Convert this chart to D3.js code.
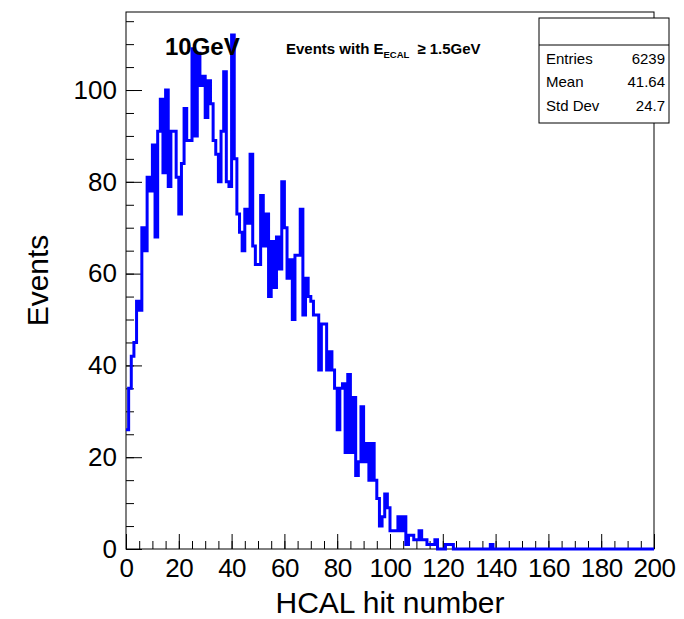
<!DOCTYPE html>
<html>
<head>
<meta charset="utf-8">
<script src="https://cdn.jsdelivr.net/npm/d3@7"></script>
<style>
  body { margin: 0; background: #fff; }
  svg { display: block; font-family: "Liberation Sans", Arial, sans-serif; }
</style>
</head>
<body>
<svg id="hcal-hist" width="684" height="619"></svg>
<script>
//HCAL hit number histogram, 10GeV run, 1 unit wide bins from 0 to 200
const binCounts = [
  26, 35, 42, 45, 54, 52, 70, 65, 81, 78,
  88, 68, 91, 98, 82, 100, 79, 91, 91, 81,
  73, 84, 96, 89, 89, 109, 90, 108, 101, 103,
  94, 102, 97, 89, 86, 80, 91, 104, 80, 79,
  112, 85, 73, 69, 65, 74, 71, 86, 66, 62,
  62, 77, 66, 73, 55, 67, 57, 68, 61, 80,
  70, 59, 63, 50, 64, 64, 74, 51, 59, 55,
  54, 51, 51, 39, 49, 49, 39, 43, 39, 35,
  26, 35, 36, 21, 38, 21, 33, 16, 19, 31,
  19, 23, 15, 23, 15, 11, 5, 7, 12, 9,
  4, 4, 4, 7, 4, 7, 1, 3, 3, 2,
  2, 4, 2, 2, 1, 1, 1, 2, 0, 0,
  0, 1, 1, 1, 0, 0, 0, 0, 0, 0,
  0, 0, 0, 0, 0, 0, 0, 0, 1, 0,
  0, 0, 0, 0, 0, 0, 0, 0, 0, 0,
  0, 0, 0, 0, 0, 0, 0, 0, 0, 0,
  0, 0, 0, 0, 0, 0, 0, 0, 0, 0,
  0, 0, 0, 0, 0, 0, 0, 0, 0, 0,
  0, 0, 0, 0, 0, 0, 0, 0, 0, 0,
  0, 0, 0, 0, 0, 0, 0, 0, 0, 0
];
const binStart = 0;
const binWidth = 1;

//Axis ticks
const xMajorTicks = [0, 20, 40, 60, 80, 100, 120, 140, 160, 180, 200];
const xMinorTicks = d3.range(0, 201, 5);
const yMajorTicks = [0, 20, 40, 60, 80, 100];
const yMinorTicks = d3.range(0, 116, 5);

//Stats box
const statNames = ["Entries", "Mean", "Std Dev"];
const statValues = ["6239", "41.64", "24.7"];

//Frame
const plotLeft = 126, plotRight = 654, plotTop = 12, plotBottom = 549;
const histColor = "#0000ff";

var svg = d3.select("#hcal-hist");

var x = d3.scaleLinear().domain([0, 200]).range([plotLeft, plotRight]);
var y = d3.scaleLinear().domain([0, 117]).range([plotBottom, plotTop]);

//Frame box
svg.append("rect")
    .attr("x", plotLeft).attr("y", plotTop)
    .attr("width", plotRight - plotLeft).attr("height", plotBottom - plotTop)
    .attr("fill", "none")
    .attr("stroke", "#000")
    .attr("stroke-width", 1);

//Y axis ticks (inside the frame)
svg.append("g")
    .attr("transform", "translate(" + plotLeft + ",0)")
    .call(d3.axisRight(y).tickValues(yMinorTicks).tickSize(8).tickFormat(""))
    .call(g => g.select(".domain").remove());
svg.append("g")
    .attr("transform", "translate(" + plotLeft + ",0)")
    .call(d3.axisRight(y).tickValues(yMajorTicks).tickSize(16).tickFormat(""))
    .call(g => g.select(".domain").remove());
//Y labels
svg.append("g")
    .attr("transform", "translate(" + plotLeft + ",0)")
    .call(d3.axisLeft(y).tickValues(yMajorTicks).tickSize(0).tickPadding(9))
    .call(g => g.select(".domain").remove())
    .selectAll("text")
    .attr("font-size", 26)
    .attr("font-family", "Liberation Sans, Arial, sans-serif")
    .attr("fill", "#000");

//X axis ticks (pointing up)
svg.append("g")
    .attr("transform", "translate(0," + plotBottom + ")")
    .call(d3.axisTop(x).tickValues(xMinorTicks).tickSize(8).tickFormat(""))
    .call(g => g.select(".domain").remove());
svg.append("g")
    .attr("transform", "translate(0," + plotBottom + ")")
    .call(d3.axisTop(x).tickValues(xMajorTicks).tickSize(15).tickFormat(""))
    .call(g => g.select(".domain").remove());
svg.append("g")
    .attr("transform", "translate(0," + plotBottom + ")")
    .call(d3.axisBottom(x).tickValues(xMajorTicks).tickSize(0).tickPadding(10))
    .call(g => g.select(".domain").remove())
    .selectAll("text")
    .attr("font-size", 26)
    .attr("font-family", "Liberation Sans, Arial, sans-serif")
    .attr("letter-spacing", -0.5)
    .attr("fill", "#000");

//Histogram outline as a step line
var pts = binCounts.map((c, i) => [binStart + i * binWidth, c]);
pts.push([binStart + binCounts.length * binWidth, binCounts[binCounts.length - 1]]);

svg.append("path")
    .datum(pts)
    .attr("fill", "none")
    .attr("stroke", histColor)
    .attr("stroke-width", 3)
    .attr("stroke-linejoin", "miter")
    .attr("d", d3.line()
        .curve(d3.curveStepAfter)
        .x(d => x(d[0]))
        .y(d => y(d[1])));

//Axis titles
svg.append("text")
    .attr("x", (plotLeft + plotRight) / 2)
    .attr("y", 613)
    .attr("text-anchor", "middle")
    .attr("font-size", 30)
    .text("HCAL hit number");

svg.append("text")
    .attr("transform", "translate(48," + ((plotTop + plotBottom) / 2) + ")rotate(-90)")
    .attr("text-anchor", "middle")
    .attr("font-size", 30)
    .text("Events");

//Labels on the plot
svg.append("text")
    .attr("x", 165).attr("y", 55)
    .attr("font-size", 24)
    .attr("font-weight", "bold")
    .text("10GeV");

var lab = svg.append("text")
    .attr("x", 286).attr("y", 54)
    .attr("font-size", 15)
    .attr("font-weight", "bold");
lab.append("tspan").text("Events with E");
lab.append("tspan").attr("font-size", 9.5).attr("dy", 4).text("ECAL");
lab.append("tspan").attr("dy", -4).attr("dx", 8).text("\u2265");
lab.append("tspan").attr("dx", 4).text("1.5GeV");

//Stats box
var box = svg.append("g");
box.append("rect")
    .attr("x", 539).attr("y", 18)
    .attr("width", 130).attr("height", 105)
    .attr("fill", "#fff")
    .attr("stroke", "#000")
    .attr("stroke-width", 1);
box.append("line")
    .attr("x1", 539).attr("x2", 669)
    .attr("y1", 45).attr("y2", 45)
    .attr("stroke", "#000");
box.selectAll("text.name")
    .data(statNames)
    .enter().append("text")
    .attr("class", "name")
    .attr("x", 546)
    .attr("y", (d, i) => 63.5 + i * 23.5)
    .attr("font-size", 15)
    .text(d => d);
box.selectAll("text.val")
    .data(statValues)
    .enter().append("text")
    .attr("class", "val")
    .attr("x", 665)
    .attr("y", (d, i) => 63.5 + i * 23.5)
    .attr("text-anchor", "end")
    .attr("font-size", 15)
    .text(d => d);
</script>
</body>
</html>
